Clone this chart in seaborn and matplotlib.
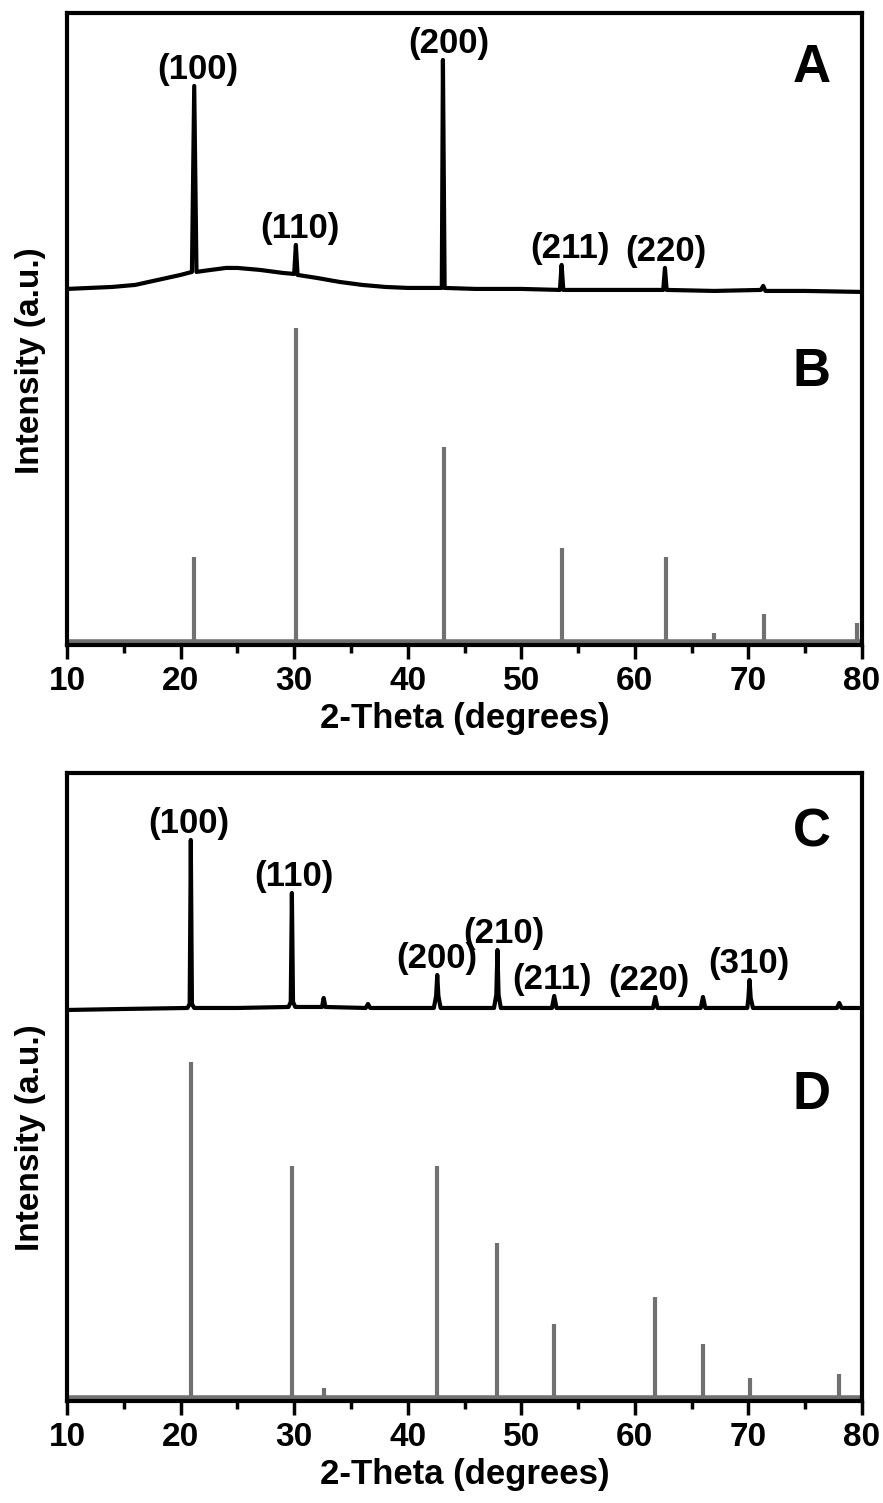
import matplotlib
matplotlib.use("Agg")
import matplotlib.pyplot as plt
import pandas as pd
import seaborn as sns
from matplotlib.ticker import MultipleLocator

# ---------------- data ----------------
# Panel A: measured pattern (2-theta in degrees, intensity in a.u.)
theta_a = [10, 12, 14, 16, 18, 20, 21.0, 21.2, 21.4, 22, 24, 25, 27, 29, 30.0, 30.15,
           30.3, 32, 34, 36, 38, 40, 43.0, 43.1, 43.25, 46, 50, 53.4, 53.55, 53.7, 58,
           62.5, 62.65, 62.8, 67, 71.1, 71.3, 71.5, 75, 80]
inten_a = [11, 12, 13, 15, 20, 25, 28, 214, 28, 29, 32, 32, 30, 27, 26, 55,
           25, 22, 18, 15, 13, 12, 12, 240, 12, 11, 11, 10, 35, 10, 10,
           10, 32, 10, 9, 10, 14, 9, 9, 8]
labels_a = ["(100)", "(110)", "(200)", "(211)", "(220)"]
label_peak_a = [21.2, 30.15, 43.1, 53.55, 62.65]
label_x_a = [21.5, 30.5, 43.6, 54.3, 62.7]

# Panel B: reference stick pattern (relative intensity)
theta_b = [21.2, 30.2, 43.2, 53.6, 62.7, 67.0, 71.4, 79.6]
rel_b = [27, 100, 62, 30, 27, 3, 9, 6]

# Panel C: measured pattern
theta_c = [10, 15, 20.6, 20.8, 20.9, 21.0, 21.2, 25, 29.5, 29.7, 29.8, 29.9, 30.1,
           32.45, 32.6, 32.75, 36.3, 36.5, 36.7, 42.3, 42.5, 42.6, 42.7, 42.9,
           47.6, 47.8, 47.9, 48.0, 48.2, 52.7, 52.9, 53.1, 61.6, 61.8, 62.0,
           65.8, 66.0, 66.2, 69.9, 70.0, 70.1, 70.2, 70.4, 77.8, 78.0, 78.2, 80]
inten_c = [5, 6, 7, 11, 175, 11, 7, 7, 8, 13, 122, 13, 8,
           8, 17, 8, 7, 11, 7, 7, 19, 40, 19, 7,
           7, 20, 65, 20, 7, 7, 19, 7, 7, 18, 7,
           7, 18, 7, 7, 17, 35, 17, 7, 7, 12, 7, 7]
labels_c = ["(100)", "(110)", "(200)", "(210)", "(211)", "(220)", "(310)"]
label_peak_c = [20.9, 29.8, 42.6, 47.9, 52.9, 61.8, 70.1]
label_x_c = [20.7, 30.0, 42.6, 48.5, 52.7, 61.2, 70.0]

# Panel D: reference stick pattern (relative intensity)
theta_d = [20.9, 29.8, 32.6, 42.6, 47.9, 52.9, 61.8, 66.0, 70.1, 78.0]
rel_d = [100, 69, 3, 69, 46, 22, 30, 16, 6, 7]

xticks = [10, 20, 30, 40, 50, 60, 70, 80]

# ---------------- style ----------------
sns.set_theme(style="ticks")
plt.rcParams["font.family"] = ["Liberation Sans", "DejaVu Sans"]
plt.rcParams.update({
    "font.weight": "bold",
    "axes.labelweight": "bold",
    "text.color": "black",
    "axes.labelcolor": "black",
    "xtick.color": "black",
    "ytick.color": "black",
})

STICK = "#717171"

fig = plt.figure(figsize=(8.83, 15.03), dpi=100)
ax_top = fig.add_axes([0.0759, 0.5709, 0.9003, 0.4205])
ax_bot = fig.add_axes([0.0759, 0.0679, 0.9003, 0.4178])


def draw_panel(ax, th, inten, offset, sticks_x, sticks_rel, stick_scale, ymax,
               labels, label_peak, label_x, letters, ylab_y):
    df = pd.DataFrame({"theta": th, "y": [offset + v for v in inten]})
    sns.lineplot(data=df, x="theta", y="y", ax=ax, color="black", lw=3,
                 sort=False, estimator=None)
    base = 3
    ax.axhline(base, color=STICK, lw=4, zorder=1)
    ax.vlines(sticks_x, base, [base + r * stick_scale for r in sticks_rel],
              color=STICK, lw=3, zorder=1)

    lookup = dict(zip(th, inten))
    for lab, pk, lx in zip(labels, label_peak, label_x):
        ax.annotate(lab, xy=(lx, offset + lookup[pk]), xytext=(0, 0),
                    textcoords="offset points", ha="center", va="bottom",
                    fontsize=25, fontweight="bold")

    for letter, (fx, fy) in letters:
        ax.text(fx, fy, letter, transform=ax.transAxes, ha="center", va="center",
                fontsize=38, fontweight="bold")

    ax.set_xlim(10, 80)
    ax.set_ylim(0, ymax)
    ax.set_xticks(xticks)
    ax.set_xticklabels([str(t) for t in xticks])
    ax.xaxis.set_minor_locator(MultipleLocator(5))
    ax.set_yticks([])
    ax.tick_params(axis="x", which="major", direction="out", length=10, width=2.5,
                   labelsize=24, pad=5)
    ax.tick_params(axis="x", which="minor", direction="out", length=6, width=2.5)
    for lab in ax.get_xticklabels():
        lab.set_fontweight("bold")
    for sp in ax.spines.values():
        sp.set_visible(True)
        sp.set_linewidth(3)
        sp.set_color("black")
    ax.set_xlabel("2-Theta (degrees)", fontsize=25, fontweight="bold", labelpad=4)
    ax.set_ylabel("Intensity (a.u.)", fontsize=24, fontweight="bold")
    ax.yaxis.set_label_coords(-0.026, ylab_y)


draw_panel(ax_top, theta_a, inten_a, 345, theta_b, rel_b, 3.14, 632,
           labels_a, label_peak_a, label_x_a,
           [("A", (0.937, 0.913)), ("B", (0.937, 0.432))], 0.45)
draw_panel(ax_bot, theta_c, inten_c, 386, theta_d, rel_d, 3.36, 628,
           labels_c, label_peak_c, label_x_c,
           [("C", (0.937, 0.906)), ("D", (0.937, 0.487))], 0.42)

fig.savefig("out.png", dpi=100, facecolor="white")
